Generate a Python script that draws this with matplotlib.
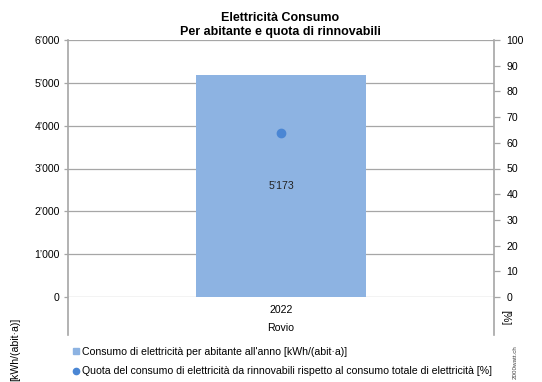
import matplotlib
matplotlib.use("Agg")
import matplotlib.pyplot as plt
from matplotlib.ticker import FuncFormatter, MultipleLocator
from matplotlib.lines import Line2D

plt.rcParams['font.family'] = ['Liberation Sans', 'DejaVu Sans']

# data
years = ["2022"]
region = "Rovio"
consumo = [5173]          # kWh/(abit*a)
quota_rinnov = [63.8]     # %

title = "Elettricità Consumo\nPer abitante e quota di rinnovabili"
ylabel_left = "[kWh/(abit·a)]"
ylabel_right = "[%]"
legend_labels = [
    "Consumo di elettricità per abitante all'anno [kWh/(abit·a)]",
    "Quota del consumo di elettricità da rinnovabili rispetto al consumo totale di elettricità [%]",
]

bar_color = "#8DB3E2"
dot_color = "#4A86D4"
grey = "#A6A6A6"
fs = 7.6


def swiss(v, pos=None):
    return f"{v:,.0f}".replace(",", "\u2019")


fig = plt.figure(figsize=(5.42, 3.82), dpi=100)
ax = fig.add_axes([68 / 542, 1 - 297 / 382, 426 / 542, 257 / 382])
ax2 = ax.twinx()

x = list(range(len(years)))
ax.bar(x, consumo, width=0.4, color=bar_color, zorder=2)
for xi, v in zip(x, consumo):
    ax.text(xi, v / 2, swiss(v), ha='center', va='center',
            fontsize=fs, color='#222222', zorder=3)
ax2.plot(x, quota_rinnov, 'o', color=dot_color, markersize=6, zorder=4)

ax.set_xlim(-0.5, 0.5)
ax.set_ylim(0, 6000)
ax2.set_ylim(0, 100)
ax.yaxis.set_major_locator(MultipleLocator(1000))
ax2.yaxis.set_major_locator(MultipleLocator(10))
ax.yaxis.set_major_formatter(FuncFormatter(swiss))
ax.grid(axis='y', color=grey, linewidth=0.9, zorder=0)
ax.set_axisbelow(True)

ax.set_xticks(x)
ax.set_xticklabels(years, fontsize=fs)
ax.tick_params(axis='x', length=0, pad=6)
ax.tick_params(axis='y', labelsize=fs, length=3, color=grey, width=0.9, pad=3)
ax2.tick_params(axis='y', labelsize=fs, length=4, color=grey, width=0.9, pad=5)
ax.text(0.5, -0.121, region, transform=ax.transAxes, ha='center', va='center', fontsize=fs)

for a in (ax, ax2):
    for s in a.spines.values():
        s.set_visible(False)
# vertical axis lines extending below the plot (category separators)
for xa in (0, 1):
    ax.add_line(Line2D([xa, xa], [-0.148, 1], transform=ax.transAxes, color=grey,
                       linewidth=1.2, clip_on=False, zorder=1))

fig.text(280 / 542, 1 - 25 / 382, title, ha='center', va='center', fontsize=9,
         fontweight='bold', linespacing=1.2)
fig.text(15 / 542, 1 - 349 / 382, ylabel_left, rotation=90, ha='center', va='center', fontsize=fs)
fig.text(505 / 542, 1 - 318 / 382, ylabel_right, rotation=270, ha='center', va='center', fontsize=fs)
fig.text(515 / 542, 1 - 362 / 382, "2000watt.ch", rotation=90, ha='center', va='center',
         fontsize=4.5, color='#444444')

handles = [
    Line2D([], [], linestyle='none', marker='s', markersize=5, color=bar_color),
    Line2D([], [], linestyle='none', marker='o', markersize=4.5, color=dot_color),
]
fig.legend(handles, legend_labels, loc='upper left', bbox_to_anchor=(73 / 542, 1 - 347 / 382),
           frameon=False, fontsize=fs, handlelength=0.6, handletextpad=0.25,
           labelspacing=0.9, borderpad=0, borderaxespad=0)

fig.savefig("out.png", dpi=100)
